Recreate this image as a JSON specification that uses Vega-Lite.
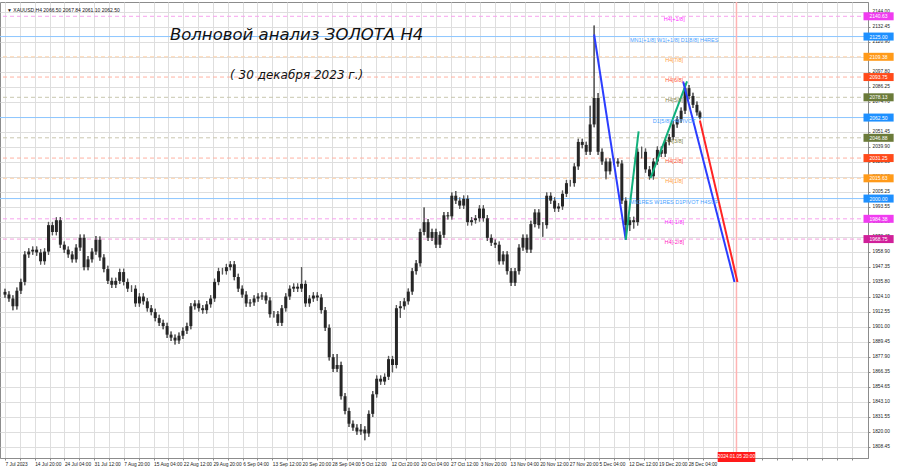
{
"$schema":"https://vega.github.io/schema/vega-lite/v6.json",
"width":868,"height":456,
"autosize":{"type":"none"},
"padding":{"left":0,"top":2,"right":32,"bottom":10},
"background":"white",
"config":{"view":{"stroke":"#8c8c8c"},
 "axis":{"labelFont":"Liberation Sans","labelFontSize":4.8,"labelColor":"#222","grid":true,"gridColor":"#dedede","gridWidth":1,"domainColor":"#8c8c8c","tickColor":"#8c8c8c","tickSize":2,"labelOverlap":false,"labelFlush":false,"labelBound":false},
 "axisX":{"labelAlign":"left","labelPadding":1.5},
 "axisY":{"labelPadding":2}},
"resolve":{"scale":{"color":"independent"}},
"datasets":{
"bars":[
{"i":0,"o":1928.0,"h":1930.5,"l":1923.4,"c":1925.9},{"i":4,"o":1925.9,"h":1928.4,"l":1920.4,"c":1922.9},{"i":8,"o":1922.9,"h":1925.4,"l":1913.9,"c":1916.9},{"i":12,"o":1916.9,"h":1931.4,"l":1914.4,"c":1928.9},{"i":16,"o":1928.9,"h":1938.2,"l":1926.4,"c":1935.7},{"i":20,"o":1935.7,"h":1959.4,"l":1933.2,"c":1956.9},{"i":24,"o":1956.9,"h":1961.6,"l":1954.4,"c":1959.1},{"i":28,"o":1959.1,"h":1963.1,"l":1956.6,"c":1960.6},{"i":32,"o":1960.6,"h":1963.1,"l":1955.9,"c":1958.4},{"i":36,"o":1958.4,"h":1960.9,"l":1949.1,"c":1951.6},
{"i":40,"o":1951.6,"h":1961.6,"l":1949.1,"c":1959.1},{"i":44,"o":1959.1,"h":1982.0,"l":1956.6,"c":1979.5},{"i":48,"o":1979.5,"h":1982.0,"l":1971.7,"c":1974.2},{"i":52,"o":1974.2,"h":1985.5,"l":1971.7,"c":1983.3},{"i":56,"o":1983.3,"h":1985.8,"l":1961.9,"c":1964.4},{"i":60,"o":1964.4,"h":1966.9,"l":1958.1,"c":1960.6},{"i":64,"o":1960.6,"h":1963.1,"l":1954.4,"c":1956.9},{"i":68,"o":1956.9,"h":1959.4,"l":1950.6,"c":1953.1},{"i":72,"o":1953.1,"h":1964.7,"l":1950.6,"c":1962.2},{"i":76,"o":1962.2,"h":1972.2,"l":1959.7,"c":1969.7},
{"i":80,"o":1969.7,"h":1972.2,"l":1944.6,"c":1947.1},{"i":84,"o":1947.1,"h":1955.6,"l":1944.6,"c":1953.1},{"i":88,"o":1953.1,"h":1961.6,"l":1950.6,"c":1959.1},{"i":92,"o":1959.1,"h":1971.2,"l":1956.6,"c":1968.2},{"i":96,"o":1968.2,"h":1970.7,"l":1952.1,"c":1954.6},{"i":100,"o":1954.6,"h":1957.1,"l":1943.1,"c":1945.6},{"i":104,"o":1945.6,"h":1948.1,"l":1934.0,"c":1936.5},{"i":108,"o":1936.5,"h":1939.0,"l":1931.0,"c":1933.5},{"i":112,"o":1933.5,"h":1939.0,"l":1931.0,"c":1936.5},{"i":116,"o":1936.5,"h":1945.8,"l":1934.0,"c":1943.3},
{"i":120,"o":1943.3,"h":1945.8,"l":1933.2,"c":1935.7},{"i":124,"o":1935.7,"h":1938.2,"l":1928.0,"c":1930.5},{"i":128,"o":1930.5,"h":1933.0,"l":1928.0,"c":1930.5},{"i":132,"o":1930.5,"h":1933.0,"l":1916.6,"c":1919.1},{"i":136,"o":1919.1,"h":1926.9,"l":1916.6,"c":1924.4},{"i":140,"o":1924.4,"h":1926.9,"l":1918.2,"c":1920.7},{"i":144,"o":1920.7,"h":1923.2,"l":1912.9,"c":1915.4},{"i":148,"o":1915.4,"h":1917.9,"l":1909.9,"c":1912.4},{"i":152,"o":1912.4,"h":1914.9,"l":1905.3,"c":1907.8},{"i":156,"o":1907.8,"h":1910.3,"l":1901.6,"c":1904.1},
{"i":160,"o":1904.1,"h":1906.6,"l":1899.1,"c":1901.6},{"i":164,"o":1901.6,"h":1904.1,"l":1892.5,"c":1895.0},{"i":168,"o":1895.0,"h":1897.5,"l":1890.2,"c":1892.7},{"i":172,"o":1892.7,"h":1895.2,"l":1887.5,"c":1890.5},{"i":176,"o":1890.5,"h":1896.7,"l":1888.0,"c":1894.2},{"i":180,"o":1894.2,"h":1900.5,"l":1891.7,"c":1898.0},{"i":184,"o":1898.0,"h":1904.1,"l":1895.5,"c":1901.6},{"i":188,"o":1901.6,"h":1919.4,"l":1899.1,"c":1916.9},{"i":192,"o":1916.9,"h":1921.6,"l":1914.4,"c":1919.1},{"i":196,"o":1919.1,"h":1921.6,"l":1912.9,"c":1915.4},
{"i":200,"o":1915.4,"h":1917.9,"l":1911.4,"c":1913.9},{"i":204,"o":1913.9,"h":1920.9,"l":1911.4,"c":1918.4},{"i":208,"o":1918.4,"h":1925.4,"l":1915.9,"c":1922.9},{"i":212,"o":1922.9,"h":1938.2,"l":1920.4,"c":1935.7},{"i":216,"o":1935.7,"h":1946.5,"l":1933.2,"c":1944.0},{"i":220,"o":1944.0,"h":1946.5,"l":1941.5,"c":1944.0},{"i":224,"o":1944.0,"h":1949.6,"l":1941.5,"c":1947.1},{"i":228,"o":1947.1,"h":1951.6,"l":1944.6,"c":1949.3},{"i":232,"o":1949.3,"h":1951.8,"l":1937.0,"c":1939.5},{"i":236,"o":1939.5,"h":1942.0,"l":1928.0,"c":1930.5},
{"i":240,"o":1930.5,"h":1933.0,"l":1923.4,"c":1925.9},{"i":244,"o":1925.9,"h":1928.4,"l":1916.6,"c":1919.1},{"i":248,"o":1919.1,"h":1922.4,"l":1916.6,"c":1919.9},{"i":252,"o":1919.9,"h":1925.4,"l":1917.4,"c":1922.9},{"i":256,"o":1922.9,"h":1926.9,"l":1920.4,"c":1924.4},{"i":260,"o":1924.4,"h":1927.7,"l":1921.9,"c":1925.2},{"i":264,"o":1925.2,"h":1927.7,"l":1918.9,"c":1921.4},{"i":268,"o":1921.4,"h":1923.9,"l":1908.3,"c":1910.8},{"i":272,"o":1910.8,"h":1913.3,"l":1908.3,"c":1910.8},{"i":276,"o":1910.8,"h":1913.3,"l":1901.6,"c":1904.1},
{"i":280,"o":1904.1,"h":1917.9,"l":1901.6,"c":1915.4},{"i":284,"o":1915.4,"h":1926.9,"l":1912.9,"c":1924.4},{"i":288,"o":1924.4,"h":1933.0,"l":1921.9,"c":1930.5},{"i":292,"o":1930.5,"h":1934.5,"l":1928.0,"c":1932.0},{"i":296,"o":1932.0,"h":1934.5,"l":1928.0,"c":1930.5},{"i":300,"o":1930.5,"h":1947.1,"l":1928.0,"c":1934.2},{"i":304,"o":1934.2,"h":1936.7,"l":1916.6,"c":1919.1},{"i":308,"o":1919.1,"h":1925.4,"l":1916.6,"c":1922.9},{"i":312,"o":1922.9,"h":1927.7,"l":1920.4,"c":1925.2},{"i":316,"o":1925.2,"h":1927.7,"l":1921.2,"c":1923.7},
{"i":320,"o":1923.7,"h":1926.2,"l":1911.4,"c":1913.9},{"i":324,"o":1913.9,"h":1916.4,"l":1897.8,"c":1900.3},{"i":328,"o":1900.3,"h":1902.8,"l":1875.1,"c":1877.6},{"i":332,"o":1877.6,"h":1880.1,"l":1866.1,"c":1868.6},{"i":336,"o":1868.6,"h":1880.0,"l":1866.1,"c":1871.6},{"i":340,"o":1871.6,"h":1874.1,"l":1845.0,"c":1847.5},{"i":344,"o":1847.5,"h":1850.0,"l":1833.6,"c":1836.1},{"i":348,"o":1836.1,"h":1838.6,"l":1823.8,"c":1826.3},{"i":352,"o":1826.3,"h":1828.8,"l":1820.8,"c":1823.3},{"i":356,"o":1823.3,"h":1825.8,"l":1817.8,"c":1820.3},
{"i":360,"o":1820.3,"h":1826.0,"l":1817.8,"c":1821.8},{"i":364,"o":1821.8,"h":1824.3,"l":1813.5,"c":1818.8},{"i":368,"o":1818.8,"h":1836.4,"l":1816.3,"c":1833.9},{"i":372,"o":1833.9,"h":1851.5,"l":1831.4,"c":1849.0},{"i":376,"o":1849.0,"h":1863.5,"l":1846.5,"c":1861.0},{"i":380,"o":1861.0,"h":1863.5,"l":1856.3,"c":1858.8},{"i":384,"o":1858.8,"h":1865.0,"l":1856.3,"c":1862.5},{"i":388,"o":1862.5,"h":1878.6,"l":1860.0,"c":1876.1},{"i":392,"o":1876.1,"h":1878.6,"l":1866.0,"c":1871.6},{"i":396,"o":1871.6,"h":1917.9,"l":1869.1,"c":1915.4},
{"i":400,"o":1915.4,"h":1921.0,"l":1908.0,"c":1916.9},{"i":404,"o":1916.9,"h":1923.2,"l":1914.4,"c":1920.7},{"i":408,"o":1920.7,"h":1930.7,"l":1918.2,"c":1928.2},{"i":412,"o":1928.2,"h":1946.5,"l":1925.7,"c":1944.0},{"i":416,"o":1944.0,"h":1952.6,"l":1941.5,"c":1950.1},{"i":420,"o":1950.1,"h":1976.7,"l":1947.6,"c":1974.2},{"i":424,"o":1974.2,"h":1993.1,"l":1971.7,"c":1981.8},{"i":428,"o":1981.8,"h":1984.3,"l":1967.2,"c":1969.7},{"i":432,"o":1969.7,"h":1976.7,"l":1967.2,"c":1974.2},{"i":436,"o":1974.2,"h":1976.7,"l":1961.9,"c":1964.4},
{"i":440,"o":1964.4,"h":1974.5,"l":1961.9,"c":1972.0},{"i":444,"o":1972.0,"h":1989.6,"l":1969.5,"c":1987.1},{"i":448,"o":1987.1,"h":1989.6,"l":1983.8,"c":1986.3},{"i":452,"o":1986.3,"h":2004.7,"l":1983.8,"c":2002.2},{"i":456,"o":2002.2,"h":2005.9,"l":1995.9,"c":1998.4},{"i":460,"o":1998.4,"h":2000.9,"l":1992.1,"c":1994.6},{"i":464,"o":1994.6,"h":2002.4,"l":1992.1,"c":1999.9},{"i":468,"o":1999.9,"h":2002.4,"l":1979.3,"c":1981.8},{"i":472,"o":1981.8,"h":1985.8,"l":1979.3,"c":1983.3},{"i":476,"o":1983.3,"h":1987.3,"l":1980.8,"c":1984.8},
{"i":480,"o":1984.8,"h":1994.8,"l":1982.3,"c":1992.3},{"i":484,"o":1992.3,"h":1994.8,"l":1982.3,"c":1984.8},{"i":488,"o":1984.8,"h":1987.3,"l":1967.2,"c":1969.7},{"i":492,"o":1969.7,"h":1972.2,"l":1963.4,"c":1965.9},{"i":496,"o":1965.9,"h":1968.4,"l":1961.9,"c":1964.4},{"i":500,"o":1964.4,"h":1966.9,"l":1949.1,"c":1951.6},{"i":504,"o":1951.6,"h":1959.4,"l":1949.1,"c":1956.9},{"i":508,"o":1956.9,"h":1959.4,"l":1941.5,"c":1944.0},{"i":512,"o":1944.0,"h":1946.5,"l":1932.5,"c":1935.0},{"i":516,"o":1935.0,"h":1946.5,"l":1932.5,"c":1944.0},
{"i":520,"o":1944.0,"h":1964.7,"l":1941.5,"c":1962.2},{"i":524,"o":1962.2,"h":1972.2,"l":1959.7,"c":1969.7},{"i":528,"o":1969.7,"h":1972.2,"l":1958.1,"c":1960.6},{"i":532,"o":1960.6,"h":1982.8,"l":1958.1,"c":1980.3},{"i":536,"o":1980.3,"h":1991.8,"l":1977.8,"c":1989.3},{"i":540,"o":1989.3,"h":1991.8,"l":1977.0,"c":1979.5},{"i":544,"o":1979.5,"h":1982.0,"l":1970.5,"c":1979.5},{"i":548,"o":1979.5,"h":2004.7,"l":1977.0,"c":2002.2},{"i":552,"o":2002.2,"h":2004.7,"l":1995.9,"c":1998.4},{"i":556,"o":1998.4,"h":2000.9,"l":1989.8,"c":1992.3},
{"i":560,"o":1992.3,"h":1996.4,"l":1989.8,"c":1993.9},{"i":564,"o":1993.9,"h":2006.2,"l":1991.4,"c":2003.7},{"i":568,"o":2003.7,"h":2014.4,"l":2001.2,"c":2011.9},{"i":572,"o":2011.9,"h":2014.4,"l":2009.4,"c":2011.9},{"i":576,"o":2011.9,"h":2027.3,"l":2009.4,"c":2024.8},{"i":580,"o":2024.8,"h":2046.2,"l":2022.3,"c":2043.7},{"i":584,"o":2043.7,"h":2046.2,"l":2038.9,"c":2041.4},{"i":588,"o":2041.4,"h":2043.9,"l":2033.6,"c":2036.1},{"i":592,"o":2036.1,"h":2071.6,"l":2033.6,"c":2057.2},{"i":596,"o":2057.2,"h":2133.5,"l":2055.0,"c":2077.6},
{"i":600,"o":2077.6,"h":2081.4,"l":2033.6,"c":2036.1},{"i":604,"o":2036.1,"h":2038.6,"l":2026.1,"c":2028.6},{"i":608,"o":2028.6,"h":2031.1,"l":2015.0,"c":2021.0},{"i":612,"o":2021.0,"h":2031.1,"l":2018.5,"c":2028.6},{"i":616,"o":2028.6,"h":2031.1,"l":2026.1,"c":2028.6},{"i":620,"o":2028.6,"h":2031.1,"l":2024.6,"c":2027.1},{"i":624,"o":2027.1,"h":2029.6,"l":1995.9,"c":1998.4},{"i":628,"o":1998.4,"h":2000.9,"l":1970.5,"c":1979.5},{"i":632,"o":1979.5,"h":1985.8,"l":1975.0,"c":1983.3},{"i":636,"o":1983.3,"h":1986.0,"l":1977.0,"c":1981.8},
{"i":640,"o":1981.8,"h":2038.6,"l":1979.3,"c":2036.1},{"i":644,"o":2036.1,"h":2040.0,"l":2031.0,"c":2036.1},{"i":648,"o":2036.1,"h":2038.6,"l":2020.0,"c":2022.5},{"i":652,"o":2022.5,"h":2025.0,"l":2014.7,"c":2017.2},{"i":656,"o":2017.2,"h":2031.1,"l":2014.7,"c":2028.6},{"i":660,"o":2028.6,"h":2040.1,"l":2026.1,"c":2037.6},{"i":664,"o":2037.6,"h":2040.1,"l":2032.1,"c":2034.6},{"i":668,"o":2034.6,"h":2046.2,"l":2032.1,"c":2043.7},{"i":672,"o":2043.7,"h":2049.9,"l":2041.2,"c":2047.4},{"i":676,"o":2047.4,"h":2059.7,"l":2044.9,"c":2057.2},
{"i":680,"o":2057.2,"h":2063.5,"l":2054.7,"c":2061.0},{"i":684,"o":2061.0,"h":2070.3,"l":2058.5,"c":2067.8},{"i":688,"o":2067.8,"h":2088.9,"l":2065.3,"c":2085.2},{"i":692,"o":2085.2,"h":2087.7,"l":2076.6,"c":2079.1},{"i":696,"o":2079.1,"h":2081.6,"l":2069.8,"c":2072.3},{"i":700,"o":2072.3,"h":2074.8,"l":2064.0,"c":2066.5},{"i":703,"o":2066.5,"h":2067.84,"l":2061.1,"c":2062.5}
],
"levels":[
{"v":2140.63,"lab":"H4[+1/8]","k":"m"},
{"v":2125.00,"lab":"MN1[+1/8] W1[+1/8] D1[8/8] H4RES","k":"b"},
{"v":2109.38,"lab":"H4[7/8]","k":"o"},
{"v":2093.75,"lab":"H4[6/8]","k":"r"},
{"v":2078.13,"lab":"H4[5/8]","k":"g"},
{"v":2062.50,"lab":"D1[5/8] H4PIVOT","k":"b"},
{"v":2046.88,"lab":"H4[3/8]","k":"g"},
{"v":2031.25,"lab":"H4[2/8]","k":"r"},
{"v":2015.63,"lab":"H4[1/8]","k":"o"},
{"v":2000.00,"lab":"MN1RES W1RES D1PIVOT H4SUP","k":"b"},
{"v":1984.38,"lab":"H4[-1/8]","k":"m"},
{"v":1968.75,"lab":"H4[-2/8]","k":"m2"}
],
"trend":[
{"seg":"b1","i":596,"p":2126.6},{"seg":"b1","i":628,"p":1968.2},
{"seg":"g1","i":628,"p":1968.2},{"seg":"g1","i":641,"p":2051.9},
{"seg":"g2","i":653,"p":2015.7},{"seg":"g2","i":690,"p":2090.4},
{"seg":"b2","i":686,"p":2090.4},{"seg":"b2","i":738,"p":1935.7},
{"seg":"r1","i":703,"p":2060.2},{"seg":"r1","i":741,"p":1935.7}
],
"vline":[{"i":740,"t":"2024.01.05 20:00"}]
},
"layer":[
{"data":{"name":"bars"},
 "mark":{"type":"rule","strokeWidth":1.2,"color":"#5a5a5a"},
 "encoding":{
  "x":{"field":"i","type":"quantitative","scale":{"domain":[0,868],"nice":false,"zero":false},
   "axis":{"title":null,"orient":"bottom","grid":true,"gridColor":"#dedede","labelOverlap":false,"tickCount":200,
    "values":[0,15.03,30.05,45.08,60.1,75.13,90.15,105.18,120.2,135.23,150.25,165.28,180.3,195.33,210.35,225.38,240.4,255.43,270.45,285.48,300.5,315.53,330.55,345.58,360.6,375.63,390.65,405.68,420.7,435.73,450.75,465.78,480.8,495.83,510.85,525.88,540.9,555.93,570.95,585.98,601,616.03,631.05,646.08,661.1,676.13,691.15,706.18,721.2,736.23,751.25,766.28,781.3,796.33,811.35,826.38,841.4,856.43],
    "labelExpr":"(round(datum.value/15.025) % 2 == 0) ? (['7 Jul 2023','14 Jul 20:00','24 Jul 04:00','31 Jul 12:00','7 Aug 20:00','15 Aug 04:00','22 Aug 12:00','29 Aug 20:00','6 Sep 04:00','13 Sep 12:00','20 Sep 20:00','28 Sep 04:00','5 Oct 12:00','12 Oct 20:00','20 Oct 04:00','27 Oct 12:00','3 Nov 20:00','13 Nov 04:00','20 Nov 12:00','27 Nov 20:00','5 Dec 04:00','12 Dec 12:00','19 Dec 20:00','28 Dec 04:00'][round(datum.value/30.05)] || '') : ''"}},
  "y":{"field":"l","type":"quantitative","scale":{"domain":[1803.7,2147.8],"nice":false,"zero":false},
   "axis":{"title":null,"orient":"right","grid":true,"gridColor":"#dedede","format":".2f","labelOverlap":false,"tickCount":200,
    "values":[2144.00,2132.45,2120.90,2109.35,2097.80,2086.25,2074.70,2063.15,2051.45,2039.90,2028.35,2016.80,2005.25,1993.55,1982.00,1970.45,1958.90,1947.35,1935.80,1924.10,1912.55,1901.00,1889.45,1877.90,1866.35,1854.65,1843.10,1831.55,1820.00,1808.45]}},
  "y2":{"field":"h"}}},
{"data":{"name":"levels"},"transform":[{"filter":"datum.k != 'b'"}],
 "mark":{"type":"rule","strokeDash":[4,3],"strokeWidth":1},
 "encoding":{"y":{"field":"v","type":"quantitative"},
  "color":{"field":"k","type":"nominal","legend":null,"scale":{"domain":["m","o","r","g","m2"],"range":["#f7a2ee","#ffd3aa","#ffb2a2","#c9c7b0","#f2a0dc"]}}}},
{"data":{"name":"levels"},"transform":[{"filter":"datum.k == 'b'"}],
 "mark":{"type":"rule","strokeWidth":1,"color":"#8cc6ff"},
 "encoding":{"y":{"field":"v","type":"quantitative"}}},
{"data":{"name":"vline"},
 "mark":{"type":"rule","strokeWidth":1.5,"color":"#ffb3b3"},
 "encoding":{"x":{"field":"i","type":"quantitative"}}},
{"data":{"name":"bars"},
 "mark":{"type":"rule","strokeWidth":1.2,"color":"#5a5a5a"},
 "encoding":{"x":{"field":"i","type":"quantitative"},"y":{"field":"l","type":"quantitative"},"y2":{"field":"h"}}},
{"data":{"name":"bars"},
 "mark":{"type":"bar","size":3,"color":"#262626"},
 "encoding":{"x":{"field":"i","type":"quantitative"},"y":{"field":"o","type":"quantitative"},"y2":{"field":"c"}}},
{"data":{"name":"trend"},
 "mark":{"type":"line","strokeWidth":2},
 "encoding":{"x":{"field":"i","type":"quantitative"},"y":{"field":"p","type":"quantitative"},
  "detail":{"field":"seg"},
  "color":{"field":"seg","type":"nominal","legend":null,"scale":{"domain":["b1","g1","g2","b2","r1"],"range":["#2b3dff","#12b07c","#12b07c","#2b3dff","#ff2424"]}}}},
{"data":{"name":"levels"},
 "mark":{"type":"text","font":"Liberation Sans","fontSize":5.5,"align":"center","baseline":"middle","dy":3},
 "encoding":{"x":{"datum":677,"type":"quantitative"},"y":{"field":"v","type":"quantitative"},"text":{"field":"lab"},
  "color":{"field":"k","type":"nominal","legend":null,"scale":{"domain":["m","b","o","r","g","m2"],"range":["#ff2cff","#4aa2ff","#ffa040","#ff5533","#7f7f45","#ff22c4"]}}}},
{"data":{"name":"levels"},
 "mark":{"type":"bar","orient":"horizontal","size":8},
 "encoding":{"x":{"datum":868.5,"type":"quantitative"},"x2":{"datum":899},"y":{"field":"v","type":"quantitative"},
  "color":{"field":"k","type":"nominal","legend":null,"scale":{"domain":["m","b","o","r","g","m2"],"range":["#f03cf0","#1e90ff","#ff9a1a","#ff4a1a","#6b7b3a","#d0209a"]}}}},
{"data":{"name":"levels"},
 "mark":{"type":"text","font":"Liberation Sans","fontSize":5,"align":"center","baseline":"middle","color":"white"},
 "encoding":{"x":{"datum":883.7,"type":"quantitative"},"y":{"field":"v","type":"quantitative"},"text":{"field":"v","format":".2f"}}},
{"data":{"name":"vline"},
 "mark":{"type":"bar","orient":"horizontal","size":10,"color":"#ff1a1a"},
 "encoding":{"x":{"datum":721,"type":"quantitative"},"x2":{"datum":759},"y":{"datum":1800.7,"type":"quantitative"}}},
{"data":{"name":"vline"},
 "mark":{"type":"text","font":"Liberation Sans","fontSize":4.8,"align":"center","baseline":"middle","color":"white"},
 "encoding":{"x":{"datum":740,"type":"quantitative"},"y":{"datum":1800.7,"type":"quantitative"},"text":{"field":"t"}}},
{"data":{"values":[{}]},
 "mark":{"type":"text","font":"DejaVu Sans","fontStyle":"italic","fontSize":16.5,"align":"center","baseline":"middle","color":"#111","text":"Волновой анализ ЗОЛОТА H4"},
 "encoding":{"x":{"datum":295,"type":"quantitative"},"y":{"datum":2125.9,"type":"quantitative"}}},
{"data":{"values":[{}]},
 "mark":{"type":"text","font":"DejaVu Sans","fontStyle":"italic","fontSize":12,"align":"center","baseline":"middle","color":"#111","text":"( 30 декабря 2023 г.)"},
 "encoding":{"x":{"datum":295,"type":"quantitative"},"y":{"datum":2095.0,"type":"quantitative"}}},
{"data":{"values":[{}]},
 "mark":{"type":"text","font":"Liberation Sans","fontSize":5,"align":"left","baseline":"middle","color":"#111","text":"▼ XAUUSD,H4  2066.50 2067.84 2061.10 2062.50"},
 "encoding":{"x":{"datum":2,"type":"quantitative"},"y":{"datum":2145.3,"type":"quantitative"}}}
]
}
